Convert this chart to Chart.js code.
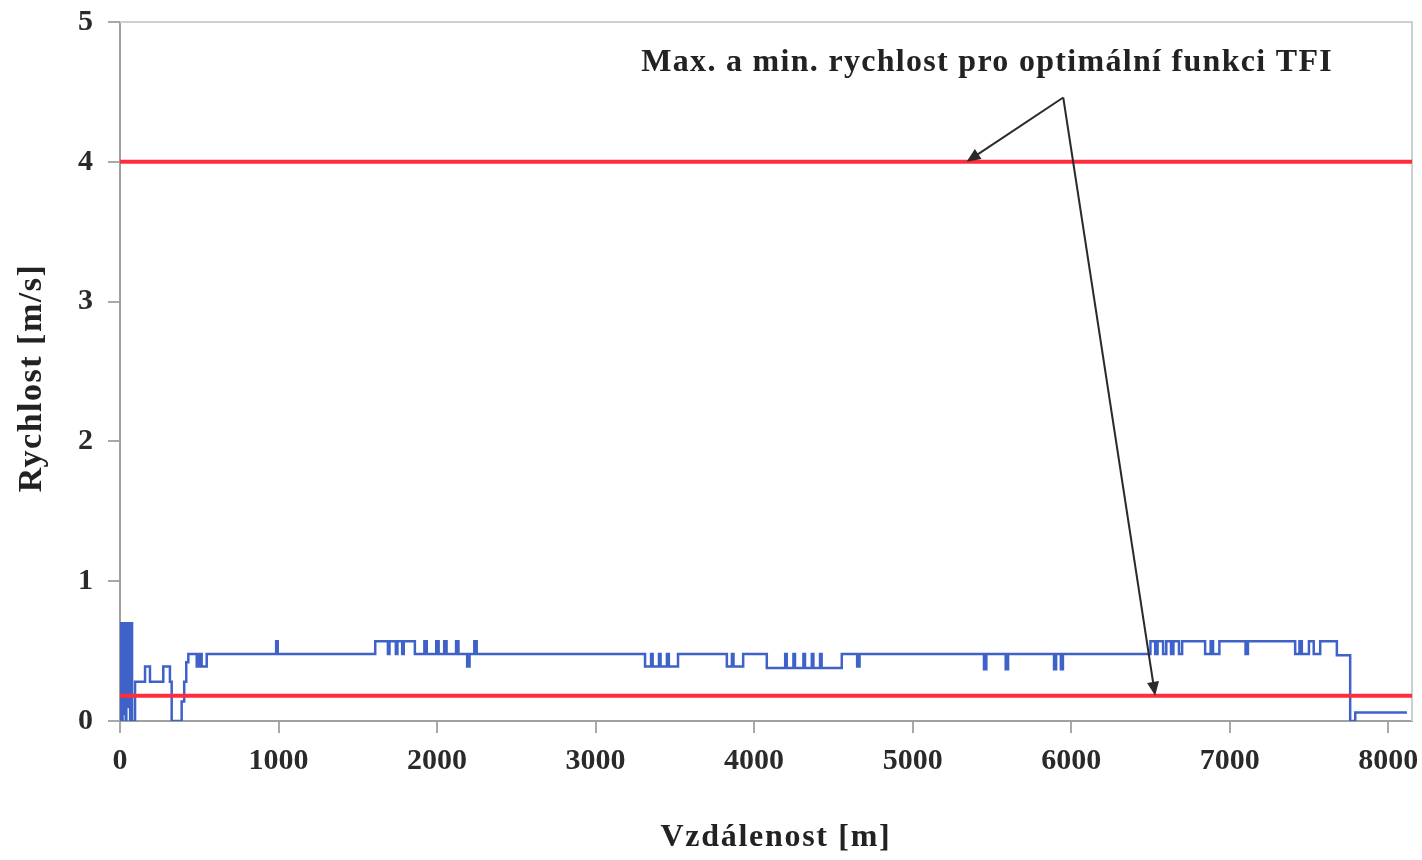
<!DOCTYPE html>
<html><head><meta charset="utf-8">
<script src="https://cdn.jsdelivr.net/npm/chart.js@4.4.0/dist/chart.umd.min.js"></script>
<style>html,body{margin:0;padding:0;background:#fff;}#wrap{width:1422px;height:860px;position:relative}</style>
</head><body><div id="wrap"><canvas id="c" width="1422" height="860"></canvas></div>
<script>
// Measured speed profile: start of each constant-speed segment (stepped)
const distance = [
  0, 4, 12, 16, 24, 28, 36, 40, 50, 54, 64, 70, 76,
  95, 158, 189, 273, 315, 326, 389, 405, 418, 431, 484, 500, 515, 547,
  985, 995,
  1610, 1690, 1700, 1740, 1750, 1780, 1790, 1860, 1920, 1935, 1995, 2010, 2045, 2060, 2120, 2135, 2190, 2205, 2235, 2250,
  3312, 3350, 3360, 3400, 3410, 3450, 3462, 3520,
  3828, 3860, 3870, 3931,
  4080, 4196, 4206, 4248, 4258, 4311, 4321, 4364, 4374, 4416, 4426, 4553,
  4650, 4665,
  5450, 5465, 5587, 5602, 5892, 5905, 5935, 5948,
  6500, 6530, 6545, 6580, 6600, 6630, 6645, 6680, 6700,
  6845, 6880, 6895, 6935,
  7100, 7115,
  7413, 7440, 7455, 7500, 7530, 7571,
  7676, 7760, 7792, 8118
];
const speed = [
  0, 0.7, 0, 0.7, 0.05, 0.7, 0, 0.7, 0.1, 0.7, 0, 0.7, 0,
  0.28, 0.39, 0.28, 0.39, 0.28, 0, 0.14, 0.28, 0.42, 0.48, 0.39, 0.48, 0.39, 0.48,
  0.57, 0.48,
  0.57, 0.48, 0.57, 0.48, 0.57, 0.48, 0.57, 0.48, 0.57, 0.48, 0.57, 0.48, 0.57, 0.48, 0.57, 0.48, 0.39, 0.48, 0.57, 0.48,
  0.39, 0.48, 0.39, 0.48, 0.39, 0.48, 0.39, 0.48,
  0.39, 0.48, 0.39, 0.48,
  0.38, 0.48, 0.38, 0.48, 0.38, 0.48, 0.38, 0.48, 0.38, 0.48, 0.38, 0.48,
  0.39, 0.48,
  0.37, 0.48, 0.37, 0.48, 0.37, 0.48, 0.37, 0.48,
  0.57, 0.48, 0.57, 0.48, 0.57, 0.48, 0.57, 0.48, 0.57,
  0.48, 0.57, 0.48, 0.57,
  0.48, 0.57,
  0.48, 0.57, 0.48, 0.57, 0.48, 0.57,
  0.47, 0, 0.06, 0.06
];
const limitDistance = [0, 8150];
const maxSpeed = [4.0, 4.0];
const minSpeed = [0.18, 0.18];
const xTickValues = [0, 1000, 2000, 3000, 4000, 5000, 6000, 7000, 8000];
const yTickValues = [0, 1, 2, 3, 4, 5];
const xTitle = 'Vzdálenost [m]';
const yTitle = 'Rychlost [m/s]';
const noteText = 'Max. a min. rychlost pro optimální funkci TFI';
const notePos = [5470, 4.71];
const arrowFrom = [5950, 4.46];
const arrowToMax = [5340, 4.0];
const arrowToMin = [6530, 0.18];

const FONT = '"Liberation Serif", "DejaVu Serif", serif';
const profile = distance.map((d, i) => ({x: d, y: speed[i]}));
const maxLine = limitDistance.map((d, i) => ({x: d, y: maxSpeed[i]}));
const minLine = limitDistance.map((d, i) => ({x: d, y: minSpeed[i]}));

const annotate = {
  id: 'annotate',
  beforeDatasetsDraw(chart) {
    const {ctx, chartArea: a} = chart;
    ctx.save();
    ctx.strokeStyle = '#cfcfcf';
    ctx.lineWidth = 2;
    ctx.beginPath();
    ctx.moveTo(a.left, a.top); ctx.lineTo(a.right, a.top); ctx.lineTo(a.right, a.bottom);
    ctx.stroke();
    ctx.restore();
  },
  afterDraw(chart) {
    const {ctx, scales: {x, y}} = chart;
    const P = p => [x.getPixelForValue(p[0]), y.getPixelForValue(p[1])];
    ctx.save();
    const arrow = (from, to) => {
      const [x0, y0] = P(from), [x1, y1] = P(to);
      const ang = Math.atan2(y1 - y0, x1 - x0);
      const len = 14, w = 6;
      ctx.strokeStyle = '#2a2a2a'; ctx.fillStyle = '#2a2a2a'; ctx.lineWidth = 2;
      ctx.beginPath(); ctx.moveTo(x0, y0);
      ctx.lineTo(x1 - Math.cos(ang) * len * 0.8, y1 - Math.sin(ang) * len * 0.8); ctx.stroke();
      ctx.beginPath();
      ctx.moveTo(x1, y1);
      ctx.lineTo(x1 - Math.cos(ang) * len + Math.sin(ang) * w, y1 - Math.sin(ang) * len - Math.cos(ang) * w);
      ctx.lineTo(x1 - Math.cos(ang) * len - Math.sin(ang) * w, y1 - Math.sin(ang) * len + Math.cos(ang) * w);
      ctx.closePath(); ctx.fill();
    };
    arrow(arrowFrom, arrowToMax);
    arrow(arrowFrom, arrowToMin);
    ctx.fillStyle = '#222';
    ctx.textAlign = 'center'; ctx.textBaseline = 'middle';
    const [tx, ty] = P(notePos);
    ctx.font = 'bold 32px ' + FONT;
    ctx.letterSpacing = '1.3px';
    ctx.fillText(noteText, tx, ty);
    // axis titles
    ctx.letterSpacing = '1.7px';
    ctx.fillText(xTitle, 776, 838);
    ctx.font = 'bold 34px ' + FONT;
    ctx.letterSpacing = '1.5px';
    ctx.translate(32, 378);
    ctx.rotate(-Math.PI / 2);
    ctx.fillText(yTitle, 0, 0);
    ctx.restore();
  }
};

new Chart(document.getElementById('c'), {
  type: 'scatter',
  data: {
    datasets: [
      {data: maxLine, showLine: true, borderColor: '#ff2d3c', borderWidth: 4, pointRadius: 0},
      {data: minLine, showLine: true, borderColor: '#ff2d3c', borderWidth: 4, pointRadius: 0},
      {data: profile, showLine: true, stepped: 'before', borderColor: '#3f62c8', borderWidth: 2.5, pointRadius: 0}
    ]
  },
  options: {
    responsive: false,
    devicePixelRatio: 1,
    animation: false,
    layout: {padding: {top: 22, right: 10, left: 0, bottom: 0}},
    plugins: {legend: {display: false}, tooltip: {enabled: false}},
    scales: {
      x: {
        type: 'linear', min: 0, max: 8150,
        afterBuildTicks: s => { s.ticks = xTickValues.map(v => ({value: v})); },
        afterFit: s => { s.height = 139; s.paddingLeft = 0; s.paddingRight = 0; },
        grid: {drawOnChartArea: false, drawTicks: true, tickLength: 12, color: '#a8a8a8', lineWidth: 2},
        border: {color: '#a0a0a0', width: 2},
        ticks: {font: {family: FONT, size: 30, weight: 'bold'}, color: '#2a2a2a', padding: 10, maxRotation: 0,
                callback: v => String(v)}
      },
      y: {
        type: 'linear', min: 0, max: 5,
        afterBuildTicks: s => { s.ticks = yTickValues.map(v => ({value: v})); },
        afterFit: s => { s.width = 120; s.paddingTop = 0; s.paddingBottom = 0; },
        grid: {drawOnChartArea: false, drawTicks: true, tickLength: 12, color: '#a8a8a8', lineWidth: 2},
        border: {color: '#a0a0a0', width: 2},
        ticks: {font: {family: FONT, size: 30, weight: 'bold'}, color: '#2a2a2a', padding: 15,
                callback: v => String(v)}
      }
    }
  },
  plugins: [annotate]
});
</script></body></html>
